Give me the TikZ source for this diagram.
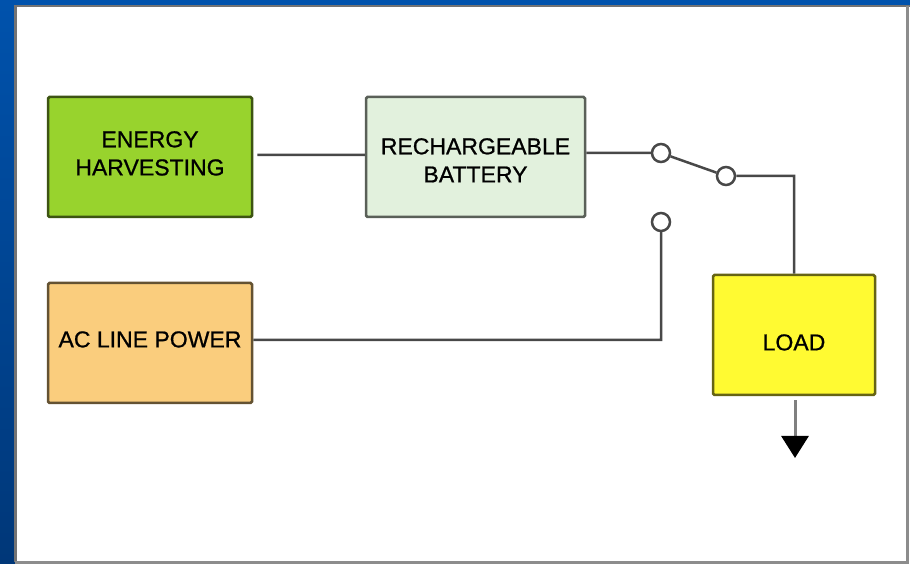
\documentclass[tikz,border=0pt]{standalone}
\usepackage{fontspec}
\setmainfont{Liberation Sans}
\newfontfamily\blockfont[FakeBold=0.8]{Liberation Sans}
\usepackage{xcolor}
\usetikzlibrary{arrows.meta, calc, positioning}

\definecolor{wirecol}{RGB}{72,72,72}
\definecolor{harvestcol}{RGB}{152,211,45}
\definecolor{batterycol}{RGB}{226,241,221}
\definecolor{linecol}{RGB}{250,205,125}
\definecolor{loadcol}{RGB}{255,250,50}

\newcommand{\blocktext}[2]{\raisebox{#1}[0pt][0pt]{\begin{tabular}{@{}c@{}}#2\end{tabular}}}

\tikzset{
    block/.style={draw=#1!40!black, line width=0.05cm, rounded corners=0.03cm, fill=#1,
        minimum height=2.4cm, align=center, text=black,
        font=\blockfont\fontsize{13.1}{16}\selectfont},
    contact/.style={circle, draw=wirecol, line width=0.05cm, fill=white, inner sep=0pt, minimum size=0.36cm},
    wire/.style={draw=wirecol, line width=0.05cm}
}

\begin{document}
\begin{tikzpicture}
    \useasboundingbox (0, 0) rectangle (18.2, 11.28);

    % slide background and panel
    \shade[top color={rgb,255:red,0;green,82;blue,172}, bottom color={rgb,255:red,0;green,55;blue,120}] (0, 0) rectangle (18.2, 11.28);
    \fill[white] (0.3, 0) rectangle (18.2, 11.17);
    \draw[black!55, line width=0.05cm] (0.31, 0.03) -- (0.31, 11.16) -- (18.2, 11.16);
    \draw[black!45, line width=0.05cm] (0.31, 0.03) -- (18.15, 0.03) -- (18.15, 11.16);

    \node[block=harvestcol, minimum width=4.08cm] (eh) at (3, 8.14) {\blocktext{-0.08cm}{ENERGY\\HARVESTING}};
    \node[block=batterycol, minimum width=4.38cm] (bat) at (9.51, 8.14) {\blocktext{-0.22cm}{RECHARGEABLE\\BATTERY}};
    \node[block=linecol, minimum width=4.08cm] (ac) at (3, 4.42) {\blocktext{-0.08cm}{AC LINE POWER}};
    \node[block=loadcol, minimum width=3.24cm] (load) at (15.88, 4.58) {\blocktext{-0.30cm}{LOAD}};

    \node[contact] (swa) at (13.22, 8.22) {};
    \node[contact] (swb) at (14.52, 7.76) {};
    \node[contact] (swc) at (13.22, 6.84) {};

    \coordinate (acbend) at (13.22, 4.48);
    \coordinate (gnd) at (15.9, 2.12);

    \draw[wire]
    ([xshift=0.08cm, yshift=0.04cm]eh.east) -- ([yshift=0.04cm]bat.west)
    (bat.east |- swa) -- (swa)
    (swa) -- (swb)
    (swb) -| (load)
    (ac.east |- acbend) -- (acbend) -- (swc);

    \draw[black!50, line width=0.06cm, -{Triangle[width=0.54cm, length=0.44cm, black]}]
    ([yshift=-0.08cm]load.south -| gnd) -- (gnd);
\end{tikzpicture}
\end{document}
